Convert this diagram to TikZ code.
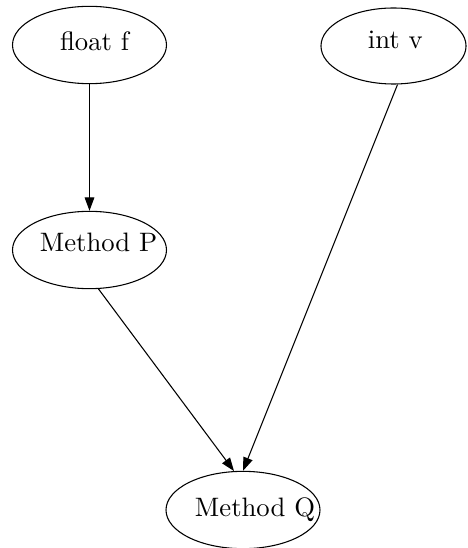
\documentclass[tikz,border=0pt]{standalone}
\usetikzlibrary{arrows.meta,shapes.geometric}

\tikzset{
  blob/.style={draw, ellipse, minimum width=57.75pt, minimum height=29pt, inner sep=0pt},
  flow/.style={-{Triangle[length=5pt,width=3.6pt]}}
}

\begin{document}
\begin{tikzpicture}[x=0.375pt, y=-0.375pt]
\useasboundingbox (0,0) rectangle (467,548);
\node[blob, label={[xshift=1.9pt, yshift=1.5pt]center:float f}] (fl) at (89.5,45) {};
\node[blob, minimum width=54.4pt, minimum height=28.5pt,
  label={[xshift=0.7pt, yshift=2.2pt]center:int v}] (iv) at (393.5,46) {};
\node[blob, label={[xshift=3.4pt, yshift=3pt]center:Method P}] (mp) at (89.5,250) {};
\node[blob, label={[xshift=4.5pt]center:Method Q}] (mq) at (243,510) {};
\draw[flow] (fl) -- (mp);
\draw[flow] (iv.-84) -- (mq.north);
\draw[flow] (mp.-77) -- (mq.103);
\end{tikzpicture}
\end{document}
